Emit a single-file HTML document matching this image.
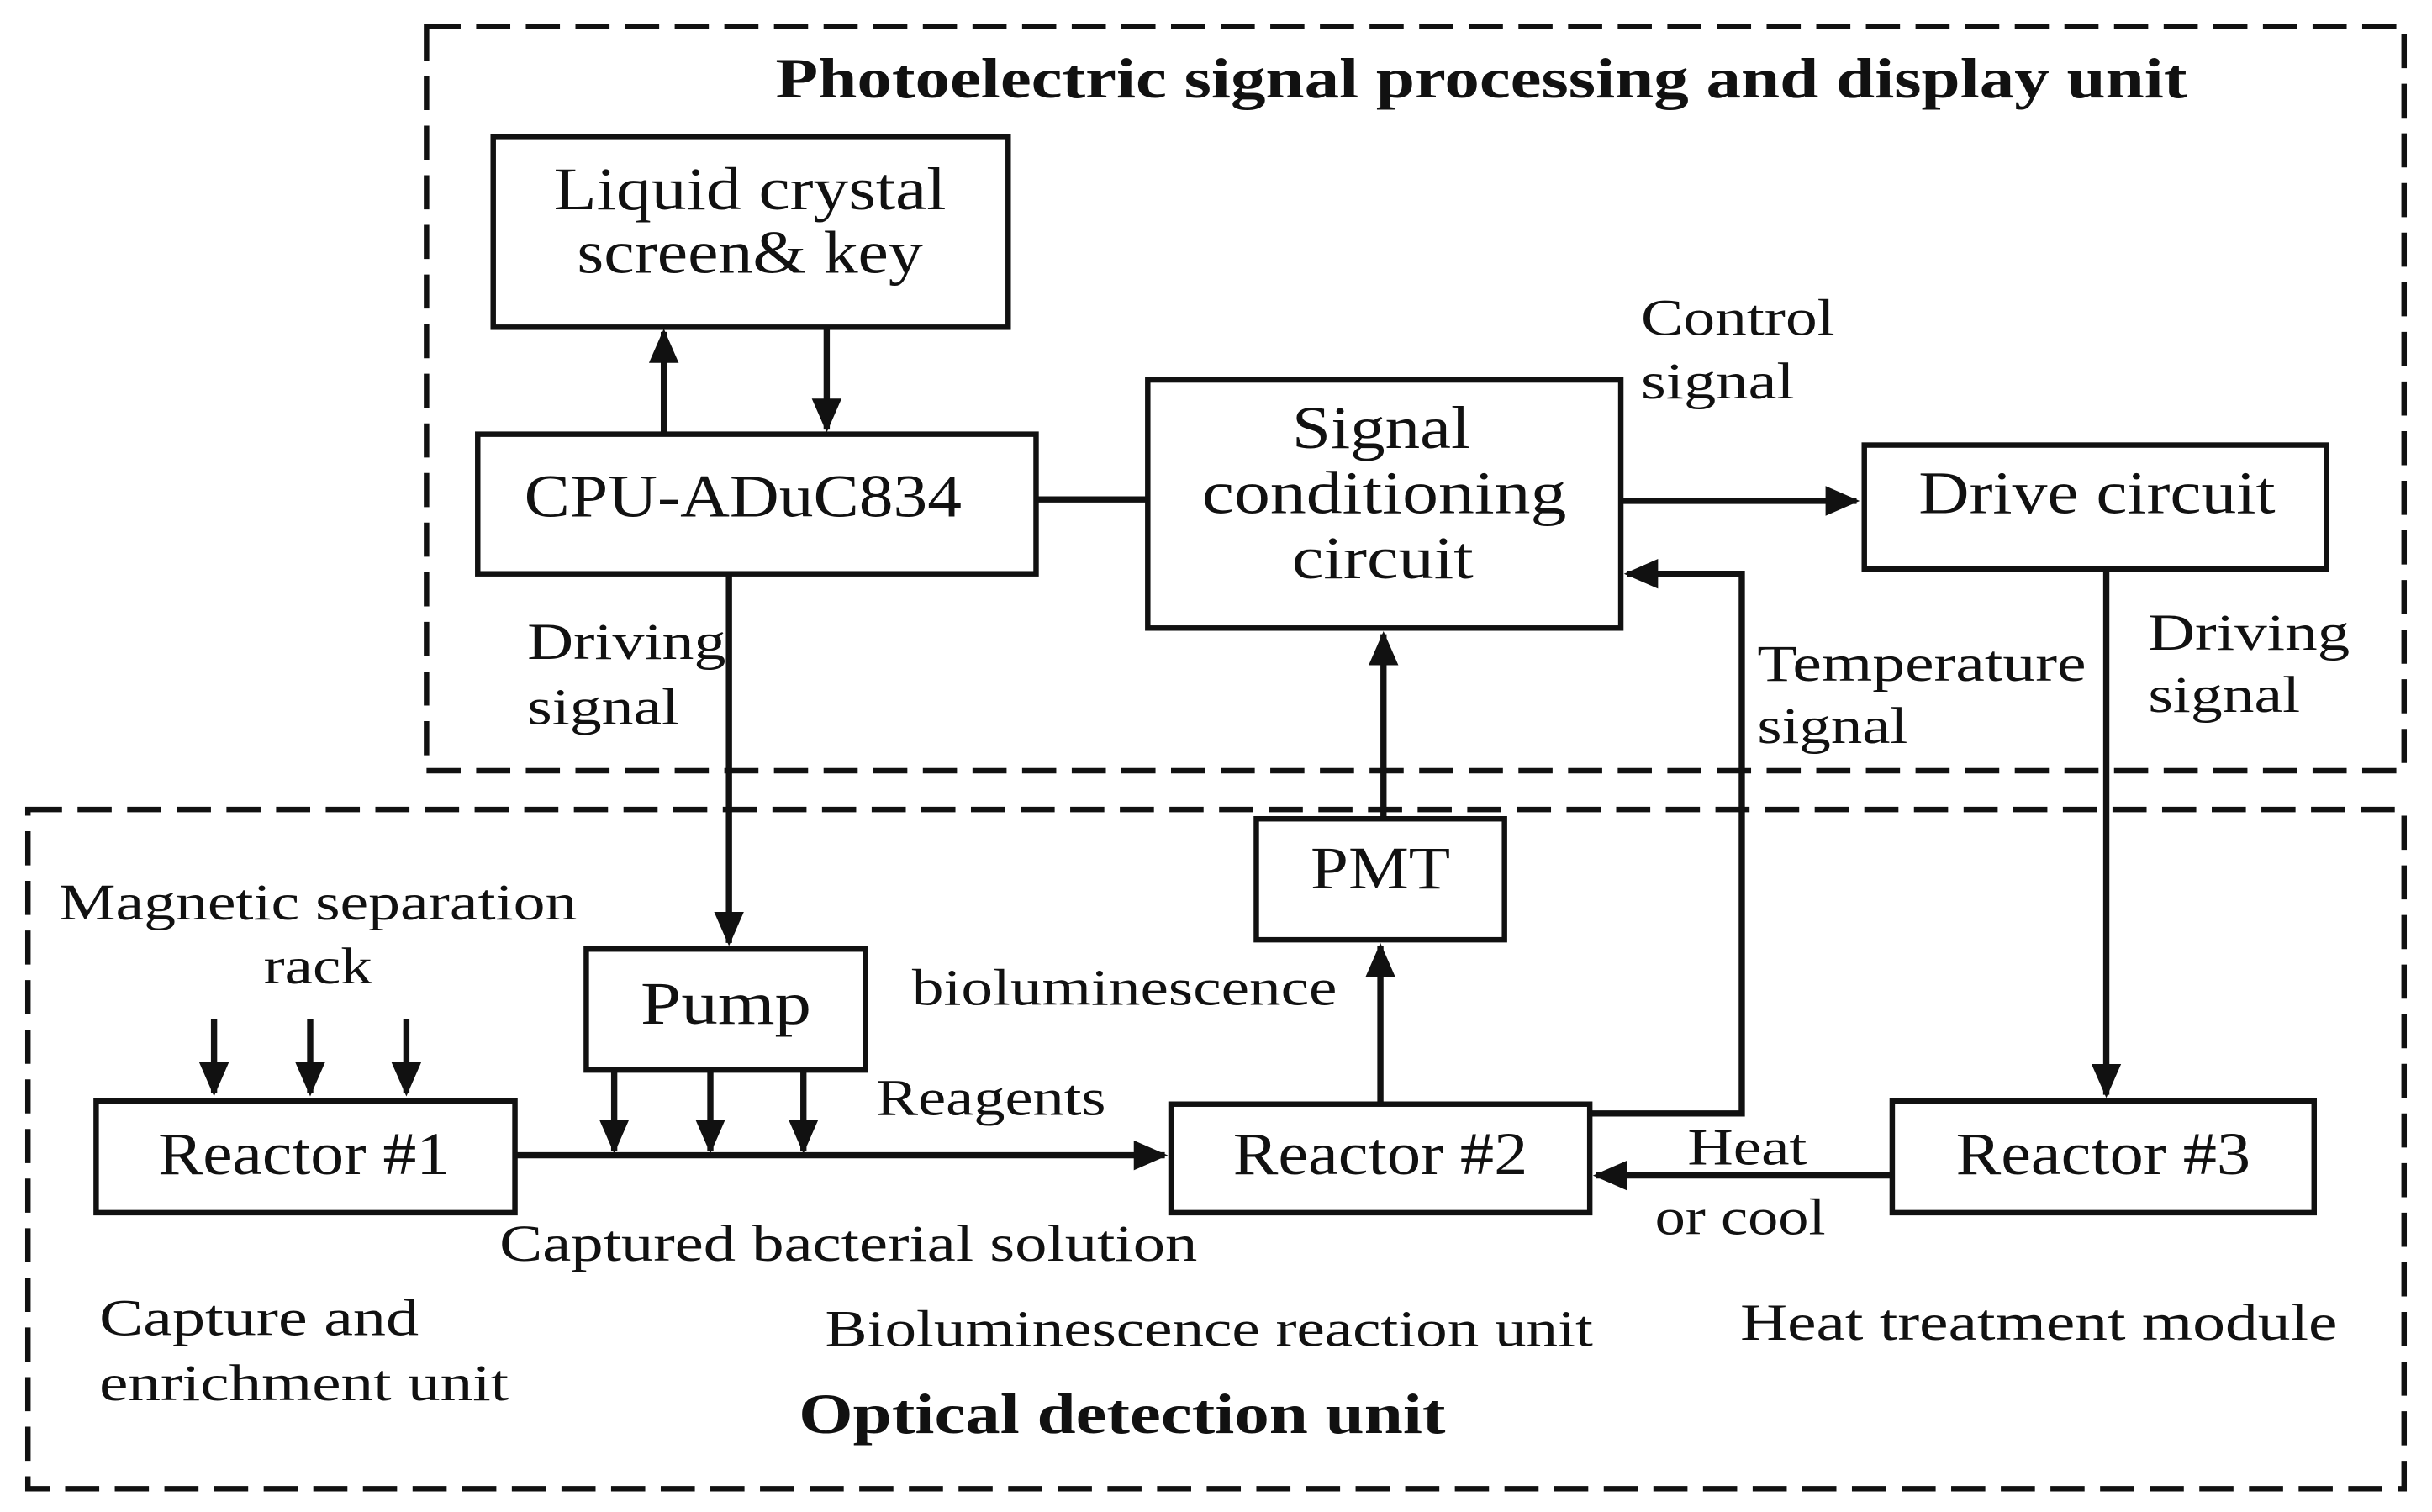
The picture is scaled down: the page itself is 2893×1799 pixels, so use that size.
<!DOCTYPE html>
<html><head><meta charset="utf-8"><style>
html,body{margin:0;padding:0;background:#fff;}
svg{display:block;}
text{font-family:"Liberation Serif",serif;fill:#111;}
.b{font-size:39px;}
.s{font-size:33px;}
.t{font-size:37px;font-weight:bold;}
</style></head><body>
<svg width="2893" height="1799" viewBox="0 0 1568 975" preserveAspectRatio="none" xmlns="http://www.w3.org/2000/svg">
<defs><marker id="a" markerWidth="6" markerHeight="6" refX="5" refY="3" orient="auto" markerUnits="strokeWidth"><path d="M0,0.6 L5.5,3 L0,5.4 Z" fill="#111"/></marker></defs>
<g fill="none" stroke="#111" stroke-width="3.5" stroke-dasharray="22,10">
<rect x="275" y="17" width="1275" height="480"/>
<rect x="18" y="522" width="1532" height="438"/>
</g>
<g fill="none" stroke="#111" stroke-width="3.5">
<rect x="318" y="88" width="332" height="123"/>
<rect x="308" y="280" width="360" height="90"/>
<rect x="740" y="245" width="305" height="160"/>
<rect x="1202" y="287" width="298" height="80"/>
<rect x="810" y="528" width="160" height="78"/>
<rect x="378" y="612" width="180" height="78"/>
<rect x="62" y="710" width="270" height="72"/>
<rect x="755" y="712" width="270" height="70"/>
<rect x="1220" y="710" width="272" height="72"/>
</g>
<g fill="none" stroke="#111" stroke-width="4">
<line x1="428" y1="280" x2="428" y2="214" marker-end="url(#a)"/>
<line x1="533" y1="211" x2="533" y2="277" marker-end="url(#a)"/>
<line x1="668" y1="322" x2="740" y2="322"/>
<line x1="1045" y1="323" x2="1197" y2="323" marker-end="url(#a)"/>
<line x1="1358" y1="367" x2="1358" y2="706" marker-end="url(#a)"/>
<line x1="1220" y1="758" x2="1029" y2="758" marker-end="url(#a)"/>
<polyline points="1025,718 1123,718 1123,370 1049,370" marker-end="url(#a)"/>
<line x1="890" y1="712" x2="890" y2="610" marker-end="url(#a)"/>
<line x1="892" y1="528" x2="892" y2="409" marker-end="url(#a)"/>
<line x1="470" y1="370" x2="470" y2="608" marker-end="url(#a)"/>
<line x1="396" y1="690" x2="396" y2="742" marker-end="url(#a)"/>
<line x1="458" y1="690" x2="458" y2="742" marker-end="url(#a)"/>
<line x1="518" y1="690" x2="518" y2="742" marker-end="url(#a)"/>
<line x1="332" y1="745" x2="751" y2="745" marker-end="url(#a)"/>
<line x1="138" y1="657" x2="138" y2="705" marker-end="url(#a)"/>
<line x1="200" y1="657" x2="200" y2="705" marker-end="url(#a)"/>
<line x1="262" y1="657" x2="262" y2="705" marker-end="url(#a)"/>
</g>
<g lengthAdjust="spacingAndGlyphs">
<text class="t" x="500" y="63" textLength="910" lengthAdjust="spacingAndGlyphs">Photoelectric signal processing and display unit</text>
<text class="b" x="357" y="135" textLength="253" lengthAdjust="spacingAndGlyphs">Liquid crystal</text>
<text class="b" x="372" y="176" textLength="223" lengthAdjust="spacingAndGlyphs">screen&amp; key</text>
<text class="b" x="338" y="333" textLength="282" lengthAdjust="spacingAndGlyphs">CPU-ADuC834</text>
<text class="b" x="833" y="289" textLength="115" lengthAdjust="spacingAndGlyphs">Signal</text>
<text class="b" x="775" y="331" textLength="235" lengthAdjust="spacingAndGlyphs">conditioning</text>
<text class="b" x="833" y="373" textLength="117" lengthAdjust="spacingAndGlyphs">circuit</text>
<text class="b" x="1237" y="331" textLength="230" lengthAdjust="spacingAndGlyphs">Drive circuit</text>
<text class="s" x="1058" y="216" textLength="125" lengthAdjust="spacingAndGlyphs">Control</text>
<text class="s" x="1058" y="257" textLength="99" lengthAdjust="spacingAndGlyphs">signal</text>
<text class="s" x="1385" y="419" textLength="130" lengthAdjust="spacingAndGlyphs">Driving</text>
<text class="s" x="1385" y="459" textLength="98" lengthAdjust="spacingAndGlyphs">signal</text>
<text class="s" x="1133" y="439" textLength="212" lengthAdjust="spacingAndGlyphs">Temperature</text>
<text class="s" x="1133" y="479" textLength="97" lengthAdjust="spacingAndGlyphs">signal</text>
<text class="s" x="340" y="425" textLength="128" lengthAdjust="spacingAndGlyphs">Driving</text>
<text class="s" x="340" y="467" textLength="98" lengthAdjust="spacingAndGlyphs">signal</text>
<text class="b" x="845" y="573" textLength="90" lengthAdjust="spacingAndGlyphs">PMT</text>
<text class="s" x="588" y="648" textLength="274" lengthAdjust="spacingAndGlyphs">bioluminescence</text>
<text class="b" x="413" y="660" textLength="110" lengthAdjust="spacingAndGlyphs">Pump</text>
<text class="s" x="565" y="719" textLength="148" lengthAdjust="spacingAndGlyphs">Reagents</text>
<text class="b" x="102" y="757" textLength="188" lengthAdjust="spacingAndGlyphs">Reactor #1</text>
<text class="b" x="795" y="757" textLength="190" lengthAdjust="spacingAndGlyphs">Reactor #2</text>
<text class="b" x="1261" y="757" textLength="190" lengthAdjust="spacingAndGlyphs">Reactor #3</text>
<text class="s" x="1088" y="751" textLength="77" lengthAdjust="spacingAndGlyphs">Heat</text>
<text class="s" x="1067" y="796" textLength="110" lengthAdjust="spacingAndGlyphs">or cool</text>
<text class="s" x="322" y="813" textLength="450" lengthAdjust="spacingAndGlyphs">Captured bacterial solution</text>
<text class="s" x="38" y="593" textLength="334" lengthAdjust="spacingAndGlyphs">Magnetic separation</text>
<text class="s" x="170" y="634" textLength="70" lengthAdjust="spacingAndGlyphs">rack</text>
<text class="s" x="64" y="861" textLength="206" lengthAdjust="spacingAndGlyphs">Capture and</text>
<text class="s" x="64" y="903" textLength="264" lengthAdjust="spacingAndGlyphs">enrichment unit</text>
<text class="s" x="532" y="868" textLength="495" lengthAdjust="spacingAndGlyphs">Bioluminescence reaction unit</text>
<text class="s" x="1122" y="864" textLength="385" lengthAdjust="spacingAndGlyphs">Heat treatment module</text>
<text class="t" x="515" y="924" textLength="417" lengthAdjust="spacingAndGlyphs">Optical detection unit</text>
</g>
</svg>
</body></html>
